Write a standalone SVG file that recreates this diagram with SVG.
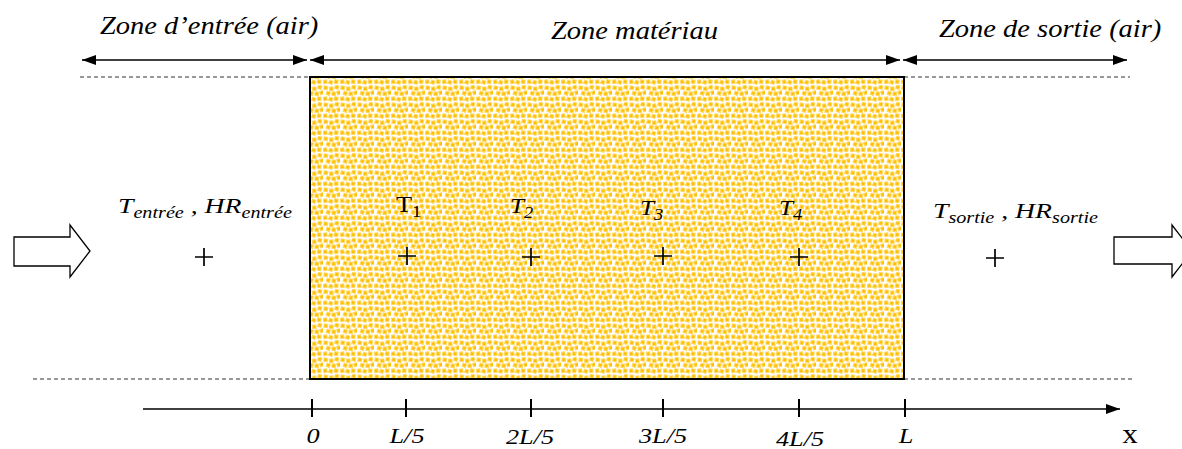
<svg xmlns="http://www.w3.org/2000/svg" width="1182" height="449" viewBox="0 0 1182 449">
<style>
.zt{font-family:"Liberation Serif",serif;font-style:italic;font-size:25px;fill:#000}
.lb{font-family:"Liberation Serif",serif;font-style:italic;font-size:22px;fill:#000}
.sb{font-size:16px}
.ax{font-family:"Liberation Serif",serif;font-style:italic;font-size:21px;fill:#000;text-anchor:middle}
.ln{stroke:#000;stroke-width:1.3;fill:none}
.ds{stroke:#333;stroke-width:1.2;stroke-dasharray:4 3;fill:none}
.tk{stroke:#000;stroke-width:2;fill:none}
.pl{stroke:#000;stroke-width:1.7;fill:none}
</style>
<defs>
<marker id="ah" viewBox="0 0 14 10" refX="14" refY="5" markerWidth="14" markerHeight="10" markerUnits="userSpaceOnUse" orient="auto-start-reverse">
<path d="M0,0 L14,5 L0,10 Z" fill="#000"/>
</marker>
<pattern id="dots" width="17" height="17" patternUnits="userSpaceOnUse">
<rect width="17" height="17" fill="#fff"/>
<g fill="#FFC000" stroke="#FFD966" stroke-width="1">
<rect x="1" y="1" width="3.5" height="3.5" transform="rotate(10 2.7 2.7)"/>
<rect x="6.5" y="2" width="3.5" height="3.5" transform="rotate(-8 8.2 3.7)"/>
<rect x="12" y="0.5" width="3.5" height="3.5" transform="rotate(15 13.7 2.2)"/>
<rect x="3.5" y="6.5" width="3.5" height="3.5" transform="rotate(20 5.2 8.2)"/>
<rect x="9" y="7" width="3.5" height="3.5" transform="rotate(5 10.7 8.7)"/>
<rect x="14" y="6" width="3.5" height="3.5" transform="rotate(-15 15.7 7.7)"/>
<rect x="0.5" y="12" width="3.5" height="3.5" transform="rotate(-10 2.2 13.7)"/>
<rect x="6" y="12.5" width="3.5" height="3.5" transform="rotate(20 7.7 14.2)"/>
<rect x="11.5" y="12" width="3.5" height="3.5" transform="rotate(8 13.2 13.7)"/>
</g>
</pattern>
</defs>

<g id="connectors">
<line class="ds" x1="80" y1="77" x2="308" y2="77"/>
<line class="ds" x1="904" y1="77" x2="1130" y2="77"/>
<line class="ds" x1="33" y1="379" x2="310" y2="379"/>
<line class="ds" x1="904" y1="379" x2="1132" y2="379"/>
<line class="ln" x1="82" y1="60" x2="307" y2="60" marker-start="url(#ah)" marker-end="url(#ah)"/>
<line class="ln" x1="310" y1="60" x2="900" y2="60" marker-start="url(#ah)" marker-end="url(#ah)"/>
<line class="ln" x1="903" y1="60" x2="1127" y2="60" marker-start="url(#ah)" marker-end="url(#ah)"/>
<line class="ln" x1="143" y1="409" x2="1120" y2="409" marker-end="url(#ah)"/>
<line class="tk" x1="312" y1="399" x2="312" y2="417"/>
<line class="tk" x1="406" y1="399" x2="406" y2="417"/>
<line class="tk" x1="531" y1="399" x2="531" y2="417"/>
<line class="tk" x1="663" y1="399" x2="663" y2="417"/>
<line class="tk" x1="799" y1="399" x2="799" y2="417"/>
<line class="tk" x1="905" y1="399" x2="905" y2="417"/>
</g>

<g id="zone-labels">
<text class="zt" transform="translate(100,34) scale(1.14,1)">Zone d’entrée (air)</text>
<text class="zt" transform="translate(551,39) scale(1.14,1)">Zone matériau</text>
<text class="zt" transform="translate(939,37) scale(1.14,1)">Zone de sortie (air)</text>
</g>

<g id="material">
<rect x="310" y="77" width="594" height="302" fill="url(#dots)" stroke="#000" stroke-width="2"/>
</g>

<g id="inlet-arrow">
<path d="M14,237 L70,237 L70,225 L90,251 L70,277 L70,266 L14,266 Z" fill="#fff" stroke="#000" stroke-width="1.3"/>
</g>
<g id="outlet-arrow">
<path d="M1114,237 L1172,237 L1172,225 L1192,251 L1172,277 L1172,264 L1114,264 Z" fill="#fff" stroke="#000" stroke-width="1.3"/>
</g>

<g id="inlet-point">
<text class="lb" transform="translate(118,213) scale(1.26,1)">T<tspan class="sb" dy="5">entrée</tspan><tspan dy="-5"> , HR</tspan><tspan class="sb" dy="5">entrée</tspan></text>
<path class="pl" d="M195,257 H213 M204,248 V266"/>
</g>
<g id="T1">
<text transform="translate(396,212) scale(1.1,1)" font-family="Liberation Serif,serif" font-size="24">T<tspan font-size="17" dy="5">1</tspan></text>
<path class="pl" d="M398,256 H416 M407,247 V265"/>
</g>
<g id="T2">
<text class="lb" transform="translate(510,213) scale(1.15,1)">T<tspan class="sb" dy="5">2</tspan></text>
<path class="pl" d="M522,257 H540 M531,248 V266"/>
</g>
<g id="T3">
<text class="lb" transform="translate(640,215) scale(1.15,1)">T<tspan class="sb" dy="5">3</tspan></text>
<path class="pl" d="M654,256 H672 M663,247 V265"/>
</g>
<g id="T4">
<text class="lb" transform="translate(779,215) scale(1.15,1)">T<tspan class="sb" dy="5">4</tspan></text>
<path class="pl" d="M790,257 H808 M799,248 V266"/>
</g>
<g id="outlet-point">
<text class="lb" transform="translate(933,218) scale(1.26,1)">T<tspan class="sb" dy="5">sortie</tspan><tspan dy="-5"> , HR</tspan><tspan class="sb" dy="5">sortie</tspan></text>
<path class="pl" d="M986,258 H1004 M995,249 V267"/>
</g>

<g id="axis-labels">
<text class="ax" transform="translate(313,443) scale(1.25,1)">0</text>
<text class="ax" transform="translate(407,443) scale(1.25,1)">L/5</text>
<text class="ax" transform="translate(530,444) scale(1.25,1)">2L/5</text>
<text class="ax" transform="translate(663,443) scale(1.25,1)">3L/5</text>
<text class="ax" transform="translate(800,446) scale(1.25,1)">4L/5</text>
<text class="ax" transform="translate(906,443) scale(1.25,1)">L</text>
<text transform="translate(1130,443) scale(1.15,1)" font-family="Liberation Serif,serif" font-size="27" text-anchor="middle">x</text>
</g>
</svg>
